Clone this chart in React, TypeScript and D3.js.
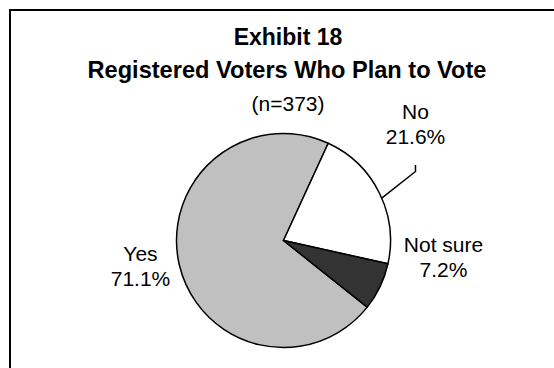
import React from "react";
import * as d3 from "d3";

const categories = ["Yes", "No", "Not sure"];
const values = [71.1, 21.6, 7.2];
const valueLabels = ["71.1%", "21.6%", "7.2%"];
const titleLines = ["Exhibit 18", "Registered Voters Who Plan to Vote", "(n=373)"];

const W = 554;
const H = 368;
const cx = 283.5;
const cy = 240.5;
const R = 107;
const fills = ["#c0c0c0", "#ffffff", "#333333"];
// label placement (center x, baseline y of first line) relative to pie centre
const labelPos = [
  { dx: -143, dy: 20.5 },
  { dx: 132, dy: -122 },
  { dx: 160, dy: 11.5 },
];
const LINE = 25;
const FONT = "'Liberation Sans', Arial, sans-serif";

export default function App() {
  const data = categories.map((c, i) => ({ c, v: values[i], i }));
  const start = (128.5 * Math.PI) / 180;
  const pie = d3
    .pie<any>()
    .value((d) => d.v)
    .sort(null)
    .startAngle(start)
    .endAngle(start + 2 * Math.PI);
  const arcs = pie(data);
  const arc = d3.arc<any>().innerRadius(0).outerRadius(R);

  // leader line for "No"
  const noArc = arcs[1];
  const mid = (noArc.startAngle + noArc.endAngle) / 2 + (3 * Math.PI) / 180;
  const p0 = [cx + R * Math.sin(mid), cy - R * Math.cos(mid)];
  const lx = cx + labelPos[1].dx;
  const p1 = [lx, cy - 69];
  const p2 = [lx, cy - 75.5];

  return (
    <svg
      width={W}
      height={H}
      style={{ position: "absolute", left: 0, top: 0, background: "#fff" }}
      fontFamily={FONT}
    >
      <rect x={10} y={10} width={700} height={500} fill="#fff" stroke="#000" strokeWidth={2} />
      <text x={288} y={45} textAnchor="middle" fontWeight="bold" fontSize={23}>
        {titleLines[0]}
      </text>
      <text x={287} y={77.7} textAnchor="middle" fontWeight="bold" fontSize={23.6}>
        {titleLines[1]}
      </text>
      <text x={288} y={111} textAnchor="middle" fontSize={21}>
        {titleLines[2]}
      </text>
      <g transform={`translate(${cx},${cy})`}>
        {arcs.map((a, i) => (
          <path key={i} d={arc(a) as string} fill={fills[i]} stroke="#000" strokeWidth={1.5} strokeLinejoin="round" />
        ))}
      </g>
      <polyline
        points={[p0, p1, p2].map((p) => p.join(",")).join(" ")}
        fill="none"
        stroke="#000"
        strokeWidth={1.5}
      />
      {categories.map((c, i) => (
        <text key={c} x={cx + labelPos[i].dx} y={cy + labelPos[i].dy} textAnchor="middle" fontSize={21}>
          <tspan x={cx + labelPos[i].dx}>{c}</tspan>
          <tspan x={cx + labelPos[i].dx} dy={LINE}>
            {valueLabels[i]}
          </tspan>
        </text>
      ))}
    </svg>
  );
}
